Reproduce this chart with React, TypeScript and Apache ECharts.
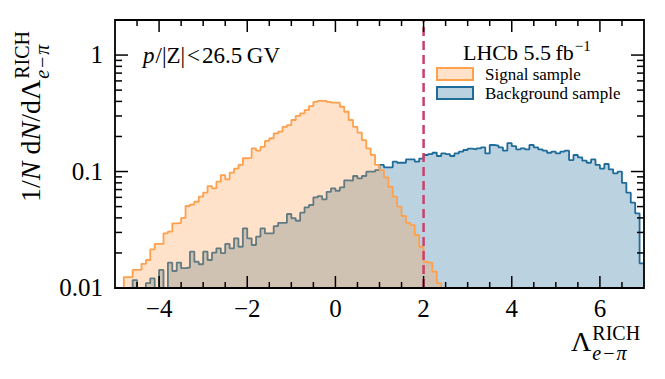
import React, { useEffect, useRef } from "react";
import * as echarts from "echarts";

// ---------- data ----------
const BIN_START = -5.0;
const BIN_WIDTH = 0.1;

// Signal sample, bins from -5.0 to 2.5 (width 0.1)
const SIGNAL = [
  0.006, 0.008, 0.0124, 0.0124, 0.0143, 0.0143, 0.0161, 0.0174, 0.0215, 0.0239,
  0.0239, 0.0295, 0.0305, 0.0359, 0.0362, 0.04, 0.0506, 0.052, 0.055, 0.061,
  0.0658, 0.075, 0.0718, 0.0818, 0.0933, 0.0857, 0.0977, 0.106, 0.114, 0.13,
  0.131, 0.158, 0.151, 0.163, 0.183, 0.193, 0.213, 0.22, 0.242, 0.25,
  0.277, 0.3, 0.316, 0.337, 0.365, 0.397, 0.405, 0.405, 0.397, 0.39,
  0.39, 0.36, 0.326, 0.277, 0.242, 0.216, 0.186, 0.158, 0.139, 0.114,
  0.103, 0.089, 0.074, 0.061, 0.05, 0.0415, 0.0363, 0.0347, 0.0285, 0.0226,
  0.0168, 0.0165, 0.0138, 0.011, 0.008,
];

// Background sample, bins from -5.0 to 7.0 (width 0.1)
const BACKGROUND = [
  0.004, 0.005, 0.006, 0.008, 0.0117, 0.009, 0.0095, 0.011, 0.0121, 0.009,
  0.0143, 0.0095, 0.0165, 0.014, 0.0165, 0.0148, 0.015, 0.0205, 0.0168, 0.016,
  0.0205, 0.0174, 0.0201, 0.0219, 0.0199, 0.0239, 0.0219, 0.0267, 0.0226, 0.0325,
  0.0267, 0.0234, 0.0276, 0.0325, 0.0295, 0.0295, 0.034, 0.0363, 0.0363, 0.0432,
  0.0397, 0.0378, 0.0443, 0.0493, 0.0516, 0.06, 0.0616, 0.0577, 0.067, 0.0717,
  0.0684, 0.073, 0.084, 0.0834, 0.0915, 0.0873, 0.0915, 0.0997, 0.0997, 0.103,
  0.114, 0.1086, 0.1086, 0.1215, 0.119, 0.119, 0.127, 0.127, 0.1215, 0.129,
  0.1386, 0.141, 0.145, 0.136, 0.143, 0.141, 0.136, 0.143, 0.148, 0.153,
  0.157, 0.155, 0.158, 0.161, 0.143, 0.169, 0.167, 0.161, 0.151, 0.175,
  0.165, 0.155, 0.158, 0.155, 0.169, 0.161, 0.155, 0.151, 0.145, 0.148,
  0.143, 0.148, 0.151, 0.1255, 0.1386, 0.1324, 0.124, 0.119, 0.127, 0.114,
  0.106, 0.116, 0.1045, 0.0966, 0.0997, 0.08, 0.0658, 0.054, 0.0438, 0.0163,
];

const X_MIN = -5;
const X_MAX = 7;
const Y_MIN = 0.01;
const Y_MAX = 2;
const CUT = 2;

const X_LABEL_VALUES = [-4, -2, 0, 2, 4, 6];
const X_TICK_LABELS = ["\u22124", "\u22122", "0", "2", "4", "6"];
const X_MINOR_TICKS = [-4.5, -3.5, -3, -2.5, -1.5, -1, -0.5, 0.5, 1, 1.5, 2.5, 3, 3.5, 4.5, 5, 5.5, 6.5];
const Y_LABEL_VALUES = [0.01, 0.1, 1];
const Y_TICK_LABELS = ["0.01", "0.1", "1"];
const Y_MINOR_TICKS = [
  0.02, 0.03, 0.04, 0.05, 0.06, 0.07, 0.08, 0.09,
  0.2, 0.3, 0.4, 0.5, 0.6, 0.7, 0.8, 0.9, 2,
];

// ---------- styles ----------
const SERIF = '"Liberation Serif", "Times New Roman", Times, serif';
const ORANGE = "#ffa04d";
const ORANGE_FILL = "rgba(255,160,77,0.3)";
const BLUE = "#1f6b99";
const BLUE_FILL = "rgba(31,107,153,0.3)";
const PINK = "#c8406e";

function toSteps(values: number[]) {
  const pts: number[][] = values.map((v, i) => [+(BIN_START + i * BIN_WIDTH).toFixed(3), v]);
  pts.push([+(BIN_START + values.length * BIN_WIDTH).toFixed(3), values[values.length - 1]]);
  return pts;
}

let measureCtx: CanvasRenderingContext2D | null = null;
function measure(text: string, size: number, italic = false) {
  if (!measureCtx) measureCtx = document.createElement("canvas").getContext("2d");
  measureCtx!.font = `${italic ? "italic " : ""}${size}px ${SERIF}`;
  return measureCtx!.measureText(text).width;
}

type Piece = { t: string; italic?: boolean; size: number; dy?: number; gap?: number };

// Lay out text pieces along a baseline (local coords, baseline at y=0)
function layout(pieces: Piece[], startX = 0) {
  const out: any[] = [];
  let x = startX;
  pieces.forEach((p) => {
    x += p.gap || 0;
    out.push({
      type: "text",
      x,
      y: (p.dy || 0) - 0.3375 * p.size,
      silent: true,
      style: {
        text: p.t,
        fill: "#000",
        font: `${p.italic ? "italic " : ""}${p.size}px ${SERIF}`,
        align: "left",
        verticalAlign: "middle",
      },
    });
    x += measure(p.t, p.size, p.italic);
  });
  return { els: out, end: x };
}

function titleElements() {
  const F = 28;
  const S = 20;
  const SUP = -0.41 * F;
  const SUB = 0.31 * F;
  // y-axis title
  const main = layout([
    { t: "1/", size: F },
    { t: "N", size: F, italic: true },
    { t: " d", size: F },
    { t: "N", size: F, italic: true },
    { t: "/d\u039B", size: F },
  ]);
  const sup = layout([{ t: "RICH", size: S, dy: SUP }], main.end + 1);
  const sub = layout(
    [
      { t: "e", size: S, italic: true, dy: SUB },
      { t: "\u2212", size: S, dy: SUB, gap: 2 },
      { t: "\u03C0", size: S, italic: true, dy: SUB, gap: 2 },
    ],
    main.end + 1
  );
  const yTitle = {
    type: "group",
    x: 40,
    y: 202,
    rotation: Math.PI / 2,
    children: [...main.els, ...sup.els, ...sub.els],
  };
  // x-axis title
  const lam = layout([{ t: "\u039B", size: F }]);
  const xsup = layout([{ t: "RICH", size: S, dy: SUP }], lam.end + 1);
  const xsub = layout(
    [
      { t: "e", size: S, italic: true, dy: SUB },
      { t: "\u2212", size: S, dy: SUB, gap: 2 },
      { t: "\u03C0", size: S, italic: true, dy: SUB, gap: 2 },
    ],
    lam.end + 1
  );
  const xTitle = {
    type: "group",
    x: 571,
    y: 351,
    children: [...lam.els, ...xsup.els, ...xsub.els],
  };
  // annotation
  const ann = layout([
    { t: "p", size: 23, italic: true },
    { t: "/|Z|\u200A<\u200A26.5\u2009GV", size: 23, gap: 1 },
  ]);
  const annotation = { type: "group", x: 143, y: 63, children: ann.els };
  // LHCb label
  const lhcb = layout([{ t: "LHCb 5.5\u2009fb", size: 22 }]);
  const lhcbSup = layout([{ t: "\u22121", size: 15, dy: -9 }], lhcb.end + 1);
  const lhcbGroup = { type: "group", x: 463, y: 60, children: [...lhcb.els, ...lhcbSup.els] };
  // legend
  const legend = {
    type: "group",
    x: 437,
    y: 68,
    children: [
      { type: "rect", shape: { x: 0, y: 0, width: 36, height: 12 }, style: { fill: ORANGE_FILL, stroke: ORANGE, lineWidth: 2 }, silent: true },
      { type: "rect", shape: { x: 0, y: 19, width: 36, height: 12 }, style: { fill: BLUE_FILL, stroke: BLUE, lineWidth: 2 }, silent: true },
      { type: "text", x: 48, y: 6.5, silent: true, style: { text: "Signal sample", fill: "#000", font: `17px ${SERIF}`, align: "left", verticalAlign: "middle" } },
      { type: "text", x: 48, y: 25.5, silent: true, style: { text: "Background sample", fill: "#000", font: `17px ${SERIF}`, align: "left", verticalAlign: "middle" } },
    ],
  };
  return [yTitle, xTitle, annotation, lhcbGroup, legend];
}

function renderFrame(_params: any, api: any) {
  const children: any[] = [];
  const lw = 1.5;
  const black = "#000";
  const [xl, yb] = api.coord([X_MIN, Y_MIN]);
  const [xr, yt] = api.coord([X_MAX, Y_MAX]);
  const line = (x1: number, y1: number, x2: number, y2: number) =>
    children.push({ type: "line", shape: { x1, y1, x2, y2 }, style: { stroke: black, lineWidth: lw } });
  // dashed cut line
  const c0 = api.coord([CUT, Y_MIN]);
  const c1 = api.coord([CUT, Y_MAX]);
  children.push({ type: "line", shape: { x1: c0[0], y1: c0[1], x2: c1[0], y2: c1[1] }, style: { stroke: PINK, lineWidth: 2.5, lineDash: [9, 5] } });
  // x ticks + labels
  X_LABEL_VALUES.forEach((v, i) => {
    const x = api.coord([v, Y_MIN])[0];
    line(x, yb, x, yb - 12);
    line(x, yt, x, yt + 12);
    children.push({
      type: "text",
      x,
      y: yb + 20.5,
      style: { text: X_TICK_LABELS[i], fill: "#000", font: `25px ${SERIF}`, align: "center", verticalAlign: "middle" },
    });
  });
  X_MINOR_TICKS.forEach((v) => {
    const x = api.coord([v, Y_MIN])[0];
    line(x, yb, x, yb - 6);
    line(x, yt, x, yt + 6);
  });
  // y ticks + labels
  Y_LABEL_VALUES.forEach((v, i) => {
    const y = api.coord([X_MIN, v])[1];
    line(xl, y, xl + 13, y);
    line(xr, y, xr - 13, y);
    children.push({
      type: "text",
      x: xl - 12,
      y: y - 0.5,
      style: { text: Y_TICK_LABELS[i], fill: "#000", font: `25px ${SERIF}`, align: "right", verticalAlign: "middle" },
    });
  });
  Y_MINOR_TICKS.forEach((v) => {
    const y = api.coord([X_MIN, v])[1];
    line(xl, y, xl + 7, y);
    line(xr, y, xr - 7, y);
  });
  // frame
  children.push({
    type: "rect",
    shape: { x: xl, y: yt, width: xr - xl, height: yb - yt },
    style: { fill: "none", stroke: black, lineWidth: 1.8 },
  });
  return { type: "group", children };
}

export default function App() {
  const ref = useRef<HTMLDivElement>(null);
  useEffect(() => {
    if (!ref.current) return;
    const chart = echarts.init(ref.current, null, { renderer: "svg" });
    chart.setOption({
      animation: false,
      backgroundColor: "#fff",
      textStyle: { fontFamily: SERIF },
      grid: { left: 115, right: 21, top: 20, bottom: 91, containLabel: false },
      xAxis: {
        type: "value",
        min: X_MIN,
        max: X_MAX,
        interval: 1,
        axisLine: { show: false },
        axisTick: { show: false },
        splitLine: { show: false },
        axisLabel: { show: false },
      },
      yAxis: {
        type: "log",
        logBase: 10,
        min: Y_MIN,
        max: Y_MAX,
        axisLine: { show: false },
        axisTick: { show: false },
        splitLine: { show: false },
        minorTick: { show: false },
        axisLabel: { show: false },
      },
      series: [
        {
          type: "line",
          name: "Background sample",
          data: toSteps(BACKGROUND),
          step: "end",
          symbol: "none",
          silent: true,
          z: 2,
          lineStyle: { color: BLUE, width: 1.8 },
          areaStyle: { color: BLUE_FILL, origin: "start", opacity: 1 },
        },
        {
          type: "line",
          name: "Signal sample",
          data: toSteps(SIGNAL),
          step: "end",
          symbol: "none",
          silent: true,
          z: 3,
          lineStyle: { color: ORANGE, width: 1.8 },
          areaStyle: { color: ORANGE_FILL, origin: "start", opacity: 1 },
        },
        {
          type: "custom",
          coordinateSystem: "cartesian2d",
          data: [[0, 0.1]],
          renderItem: renderFrame,
          clip: false,
          silent: true,
          z: 10,
        },
      ],
      graphic: titleElements(),
    });
    return () => chart.dispose();
  }, []);
  return <div ref={ref} style={{ width: 665, height: 379, position: "absolute", left: 0, top: 0 }} />;
}
